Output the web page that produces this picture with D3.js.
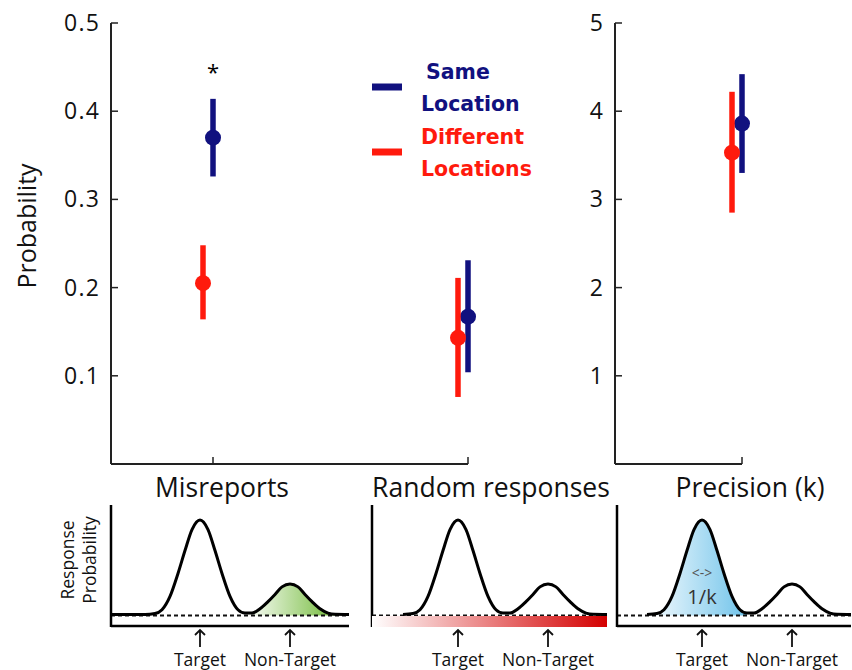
<!DOCTYPE html>
<html>
<head>
<meta charset="utf-8">
<script src="https://cdnjs.cloudflare.com/ajax/libs/d3/7.8.5/d3.min.js"></script>
<style>
  body { margin: 0; background: #fff; }
</style>
</head>
<body>
<div id="canvas"></div>
<script>
"use strict"

// chart values
let conditions = ["Same Location", "Different Locations"];
let conditionColors = ["#11117f", "#ff1a0d"];
let probCategories = ["Misreports", "Random responses"];
let probMean = [[0.370, 0.167], [0.205, 0.143]];   // [condition][category]
let probLow = [[0.326, 0.104], [0.164, 0.076]];
let probHigh = [[0.414, 0.231], [0.248, 0.211]];
let probTicks = [0.1, 0.2, 0.3, 0.4, 0.5];

let precisionMean = [3.86, 3.53];
let precisionLow = [3.30, 2.85];
let precisionHigh = [4.42, 4.22];
let precisionTicks = [1, 2, 3, 4, 5];

let panelTitles = ["Misreports", "Random responses", "Precision (k)"];

// schematic response curve, offset from target vs relative height
let curveOffsets = [-89, -55, -45, -38, -30, -22, -15, -8, 0, 8, 15, 22, 30, 38, 45, 52, 60, 68, 75, 82, 90, 98, 105, 112, 120, 128, 135, 149];
let curveHeights = [0.01, 0.01, 0.02, 0.06, 0.2, 0.44, 0.68, 0.9, 1, 0.9, 0.68, 0.44, 0.2, 0.06, 0.025, 0.025, 0.07, 0.145, 0.22, 0.3, 0.33, 0.3, 0.22, 0.145, 0.07, 0.025, 0.012, 0.01];
let nonTargetOffset = 90;

let svg = d3.select("#canvas")
    .append("svg")
    .attr("width", 852)
    .attr("height", 670);

let defs = svg.append("defs");

function addGradient(id, from, to) {
    let g = defs.append("linearGradient").attr("id", id)
        .attr("x1", "0%").attr("x2", "100%").attr("y1", "0%").attr("y2", "0%");
    g.append("stop").attr("offset", "0%").attr("stop-color", from);
    g.append("stop").attr("offset", "100%").attr("stop-color", to);
}
addGradient("greenFill", "#ffffff", "#74bb3c");
addGradient("redFill", "#ffffff", "#d40000");
addGradient("blueFill", "#eaf6fc", "#6fc3ea");

let fontMain = "'Open Sans', sans-serif";

/* probability chart (left) */
let yProb = d3.scaleLinear().domain([0, 0.5]).range([464, 23]);
let xProb = d3.scalePoint().domain(probCategories).range([213, 468]);
let probLeft = 111;

function drawAxes(left, right, yScale, ticks, fmt) {
    let g = svg.append("g");
    g.append("line")
        .attr("x1", left).attr("x2", left)
        .attr("y1", yScale.range()[1]).attr("y2", yScale.range()[0])
        .attr("stroke", "#222").attr("stroke-width", 2);
    g.append("line")
        .attr("x1", left).attr("x2", right)
        .attr("y1", yScale.range()[0]).attr("y2", yScale.range()[0])
        .attr("stroke", "#222").attr("stroke-width", 2);
    g.selectAll(".ytick").data(ticks).enter().append("line")
        .attr("x1", left).attr("x2", left + 7)
        .attr("y1", d => yScale(d)).attr("y2", d => yScale(d))
        .attr("stroke", "#222").attr("stroke-width", 1.5);
    g.selectAll(".ylabel").data(ticks).enter().append("text")
        .attr("x", left - 11)
        .attr("y", d => yScale(d) + 8)
        .attr("text-anchor", "end")
        .attr("font-family", fontMain)
        .attr("font-size", 23)
        .attr("letter-spacing", 1.2)
        .attr("fill", "#111")
        .text(fmt);
    return g;
}

drawAxes(probLeft, 468, yProb, probTicks, d => d3.format(".1f")(d));
svg.selectAll(".xtickProb").data(probCategories).enter().append("line")
    .attr("x1", d => xProb(d)).attr("x2", d => xProb(d))
    .attr("y1", 464).attr("y2", 457)
    .attr("stroke", "#222").attr("stroke-width", 1.5);

function drawPoint(x, mean, low, high, color, yScale) {
    svg.append("line")
        .attr("x1", x).attr("x2", x)
        .attr("y1", yScale(low)).attr("y2", yScale(high))
        .attr("stroke", color).attr("stroke-width", 5.5);
    svg.append("circle")
        .attr("cx", x).attr("cy", yScale(mean))
        .attr("r", 8).attr("fill", color);
}

let conditionShift = [0, -10]; // red drawn a bit left of the tick
conditions.forEach((c, i) => {
    probCategories.forEach((cat, j) => {
        drawPoint(xProb(cat) + conditionShift[i], probMean[i][j], probLow[i][j], probHigh[i][j], conditionColors[i], yProb);
    });
});

svg.append("text")
    .attr("x", 213).attr("y", 80)
    .attr("text-anchor", "middle")
    .attr("font-family", fontMain)
    .attr("font-size", 22)
    .text("*");

svg.append("text")
    .attr("transform", "translate(36,226) rotate(-90)")
    .attr("text-anchor", "middle")
    .attr("font-family", fontMain)
    .attr("font-size", 25)
    .attr("fill", "#111")
    .text("Probability");

/* legend */
let legendLines = [["Same", "Location"], ["Different", "Locations"]];
let legendY = [87, 152];
let legendTextX = [[426, 421], [421, 421]];
conditions.forEach((c, i) => {
    svg.append("line")
        .attr("x1", 372).attr("x2", 402)
        .attr("y1", legendY[i]).attr("y2", legendY[i])
        .attr("stroke", conditionColors[i]).attr("stroke-width", 7);
    legendLines[i].forEach((t, k) => {
        svg.append("text")
            .attr("x", legendTextX[i][k])
            .attr("y", legendY[i] - 8 + k * 32)
            .attr("font-family", "'DejaVu Sans', sans-serif")
            .attr("font-weight", "bold")
            .attr("font-size", 20.5)
            .attr("fill", conditionColors[i])
            .text(t);
    });
});

/* precision chart (right) */
let yPrec = d3.scaleLinear().domain([0, 5]).range([464, 23]);
let precX = 742;
drawAxes(615, precX, yPrec, precisionTicks, d => d);
svg.append("line")
    .attr("x1", precX).attr("x2", precX)
    .attr("y1", 464).attr("y2", 457)
    .attr("stroke", "#222").attr("stroke-width", 1.5);
conditions.forEach((c, i) => {
    drawPoint(precX + conditionShift[i], precisionMean[i], precisionLow[i], precisionHigh[i], conditionColors[i], yPrec);
});

/* panel titles */
let titleX = [222, 491, 750];
svg.selectAll(".title").data(panelTitles).enter().append("text")
    .attr("x", (d, i) => titleX[i])
    .attr("y", 497)
    .attr("text-anchor", "middle")
    .attr("font-family", fontMain)
    .attr("font-size", 26.5)
    .attr("fill", "#111")
    .text(d => d);

/* schematic panels (bottom) */
let schematics = [
    { left: 111, target: 200, right: 349, fill: "green" },
    { left: 372, target: 458, right: 607, fill: "red" },
    { left: 617, target: 702, right: 851, fill: "blue" }
];
let yDiag = d3.scaleLinear().domain([0, 1]).range([615.5, 520]);
let curvePoints = curveOffsets.map((o, i) => ({ o: o, h: curveHeights[i] }));

schematics.forEach((p, idx) => {
    let x = d3.scaleLinear()
        .domain([0, 1])
        .range([p.target, p.target + 1]); // one unit per pixel
    let g = svg.append("g");

    if (p.fill === "green") {
        let pts = curvePoints.filter(d => d.o >= 45 && d.o <= 140);
        g.append("path").datum(pts)
            .attr("d", d3.area().x(d => x(d.o)).y0(yDiag(0)).y1(d => yDiag(d.h)).curve(d3.curveMonotoneX))
            .attr("fill", "url(#greenFill)");
    }
    if (p.fill === "blue") {
        let pts = curvePoints.filter(d => d.o >= -45 && d.o <= 45);
        g.append("path").datum(pts)
            .attr("d", d3.area().x(d => x(d.o)).y0(yDiag(0)).y1(d => yDiag(d.h)).curve(d3.curveMonotoneX))
            .attr("fill", "url(#blueFill)");
    }

    // dashed baseline
    g.append("line")
        .attr("x1", p.left).attr("x2", p.right)
        .attr("y1", yDiag(0)).attr("y2", yDiag(0))
        .attr("stroke", "#111").attr("stroke-width", 2.2)
        .attr("stroke-dasharray", "4,3");

    // response curve
    g.append("path").datum(curvePoints.filter(d => x(d.o) >= p.left - 1 && x(d.o) <= p.right + 1))
        .attr("d", d3.line().x(d => x(d.o)).y(d => yDiag(d.h)).curve(d3.curveMonotoneX))
        .attr("fill", "none")
        .attr("stroke", "#000").attr("stroke-width", 3);

    // axes
    g.append("line")
        .attr("x1", p.left).attr("x2", p.left)
        .attr("y1", 505).attr("y2", 627)
        .attr("stroke", "#000").attr("stroke-width", 2.5);
    if (p.fill === "red") {
        g.append("rect")
            .attr("x", p.left).attr("y", 616)
            .attr("width", p.right - p.left).attr("height", 11)
            .attr("fill", "url(#redFill)");
    } else {
        g.append("line")
            .attr("x1", p.left).attr("x2", p.right)
            .attr("y1", 626).attr("y2", 626)
            .attr("stroke", "#000").attr("stroke-width", 2.5);
    }

    // arrows and labels
    [["Target", 0], ["Non-Target", nonTargetOffset]].forEach(a => {
        let ax = x(a[1]);
        g.append("path")
            .attr("d", "M" + ax + ",647 L" + ax + ",631 M" + (ax - 5) + ",635 L" + ax + ",630 L" + (ax + 5) + ",635")
            .attr("fill", "none")
            .attr("stroke", "#111").attr("stroke-width", 1.8);
        g.append("text")
            .attr("x", ax).attr("y", 666)
            .attr("text-anchor", "middle")
            .attr("font-family", fontMain)
            .attr("font-size", 17.5)
            .attr("fill", "#111")
            .text(a[0]);
    });

    if (p.fill === "blue") {
        g.append("text")
            .attr("x", x(0)).attr("y", 578)
            .attr("text-anchor", "middle")
            .attr("font-family", fontMain)
            .attr("font-size", 14)
            .attr("fill", "#555")
            .text("<->");
        g.append("text")
            .attr("x", x(0)).attr("y", 604)
            .attr("text-anchor", "middle")
            .attr("font-family", fontMain)
            .attr("font-size", 20)
            .attr("fill", "#333")
            .text("1/k");
    }
});

// y label of the schematic
["Response", "Probability"].forEach((t, i) => {
    svg.append("text")
        .attr("transform", "translate(" + (74 + i * 22) + ",560) rotate(-90)")
        .attr("text-anchor", "middle")
        .attr("font-family", fontMain)
        .attr("font-size", 17.5)
        .attr("fill", "#111")
        .text(t);
});
</script>
</body>
</html>
